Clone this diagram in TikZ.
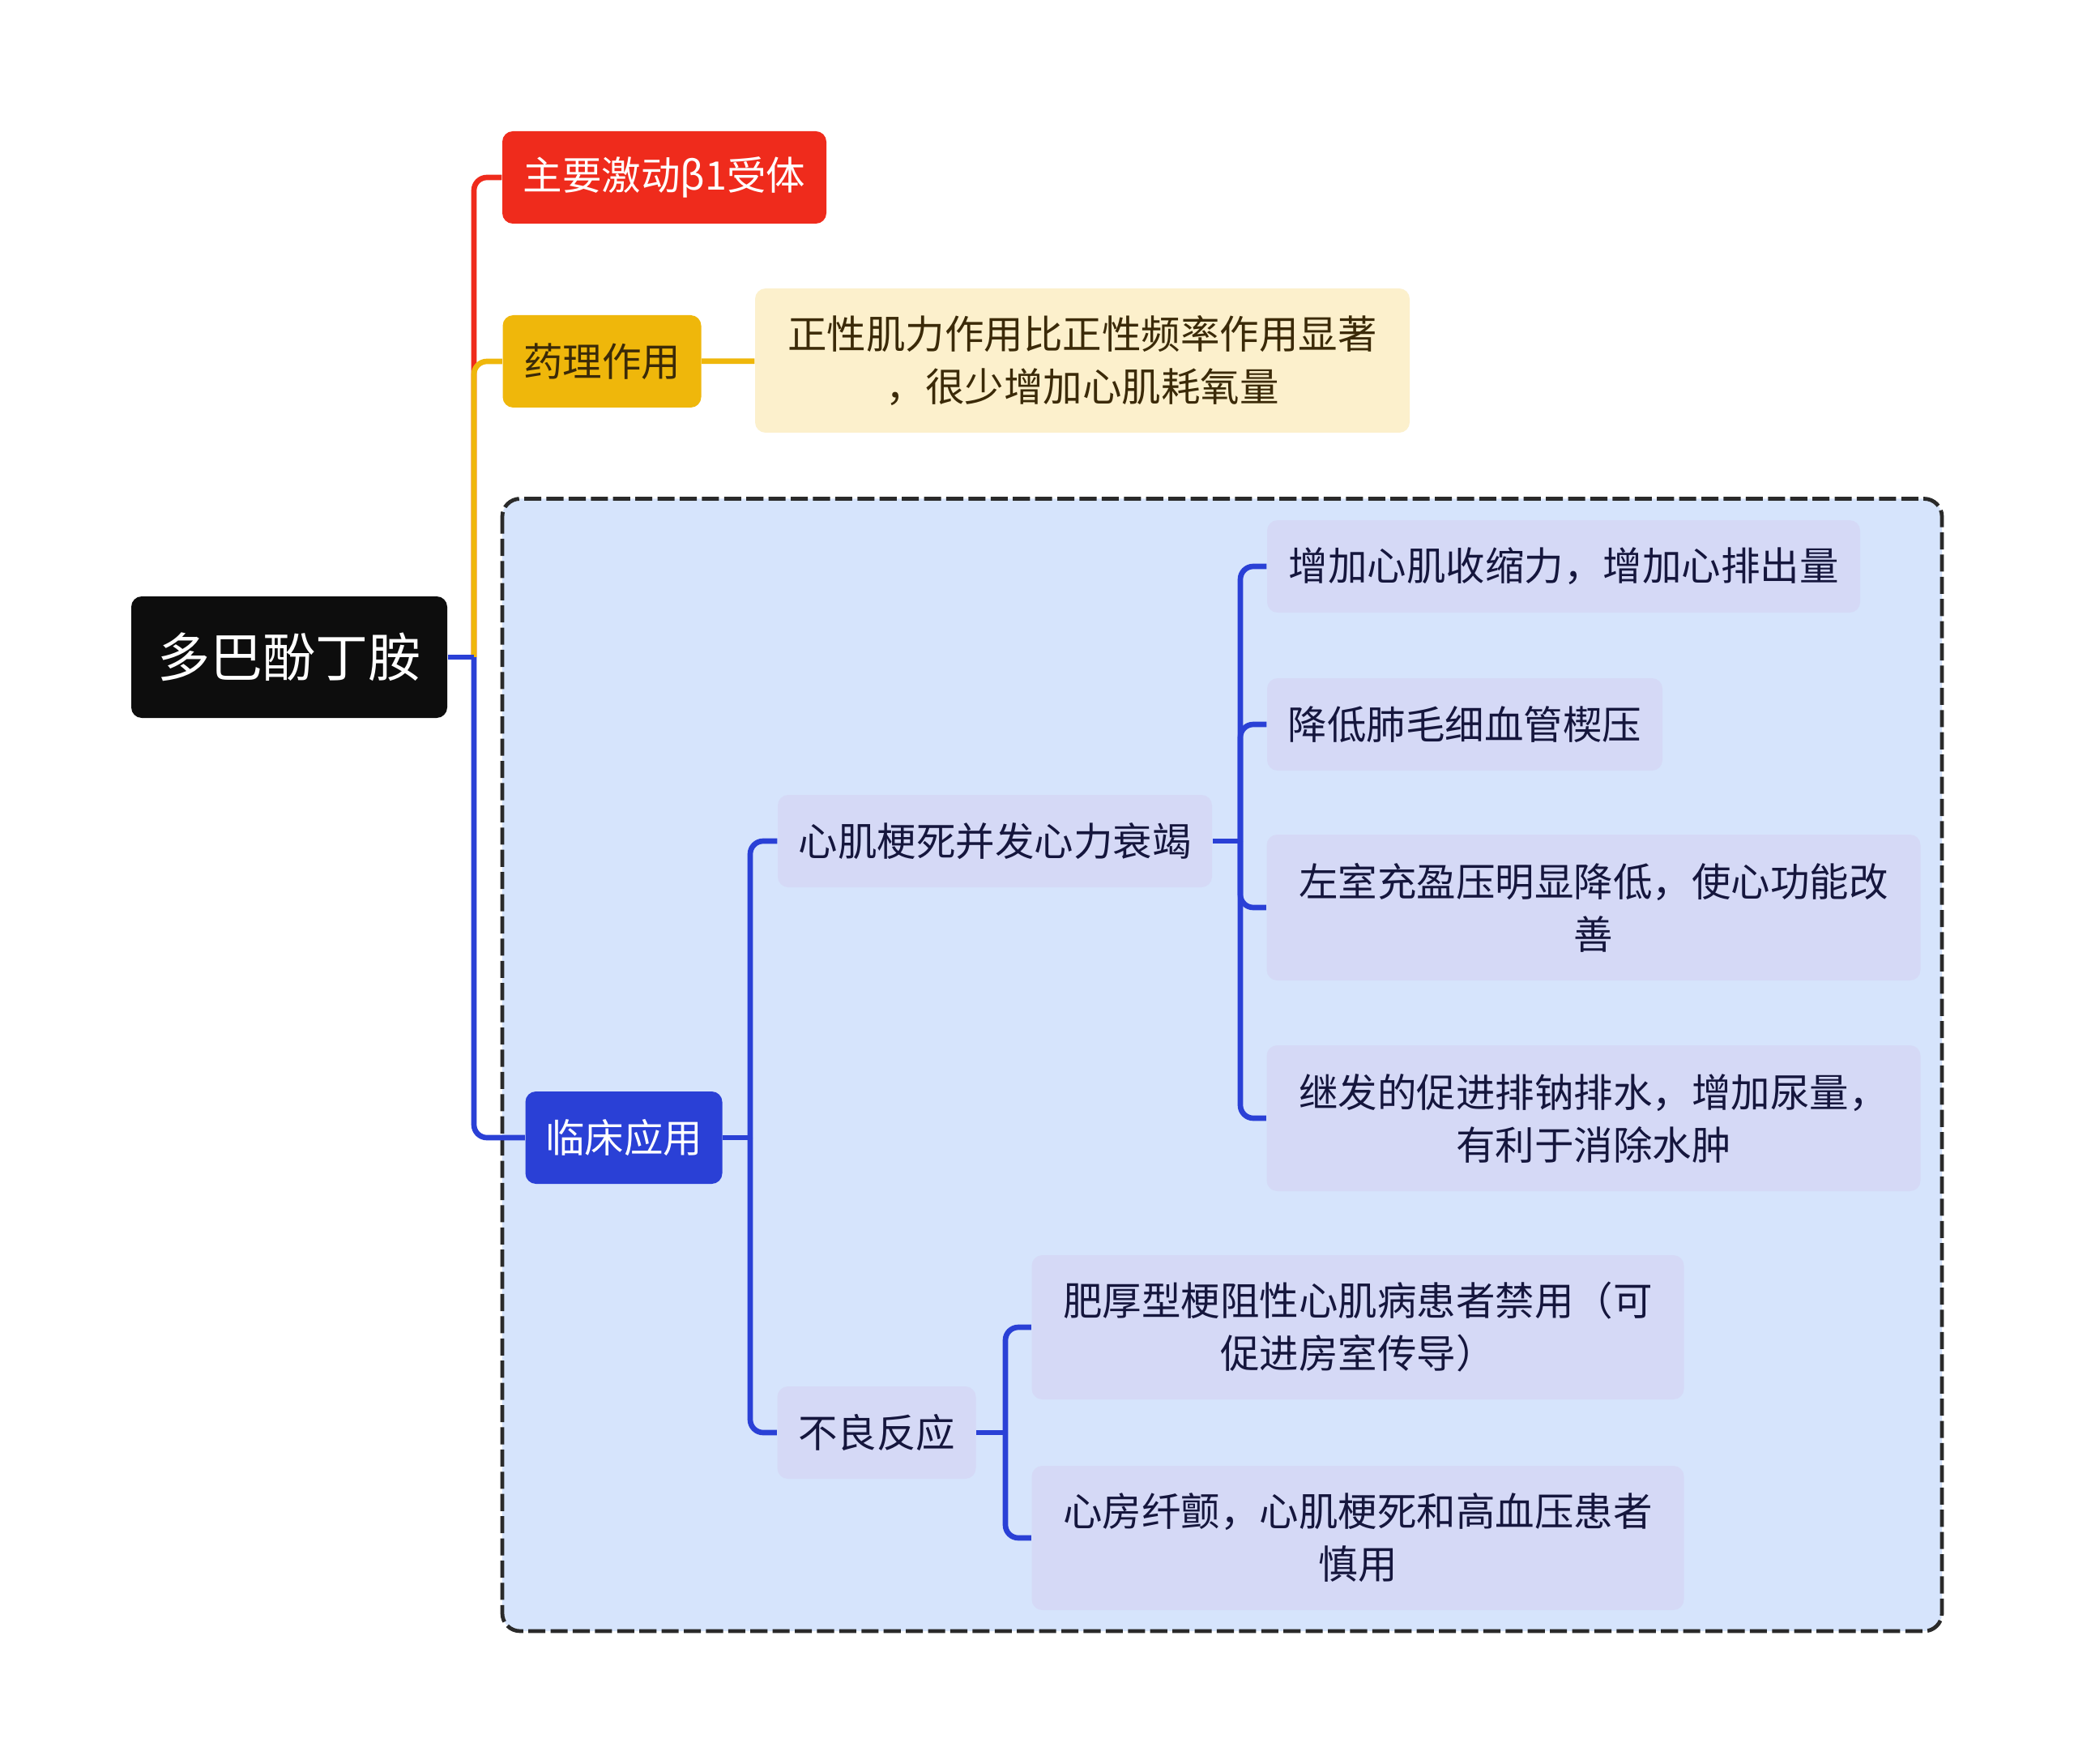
\documentclass[tikz,border=0pt]{standalone}
\usepackage{fontspec}
\setmainfont{Noto Sans CJK SC}
\usetikzlibrary{positioning,calc}
\definecolor{rootblack}{HTML}{0D0D0D}
\definecolor{topicred}{HTML}{EF2B1C}
\definecolor{topicyellow}{HTML}{EFB70B}
\definecolor{notecream}{HTML}{FCF0CC}
\definecolor{notebrown}{HTML}{3B2A08}
\definecolor{topicblue}{HTML}{2A40D6}
\definecolor{groupblue}{HTML}{D6E4FC}
\definecolor{leaflilac}{HTML}{D5D9F6}
\definecolor{leafink}{HTML}{15163D}
\definecolor{framegray}{HTML}{2A2A2A}
\tikzset{
  base/.style={rectangle, rounded corners=0.13cm, inner sep=0pt, align=center, minimum height=1.14cm, font=\fontsize{13.8}{18.5}\selectfont},
  rootbox/.style={base, fill=rootblack, text=white, minimum width=3.90cm, minimum height=1.50cm, font=\fontsize{18.5}{22}\selectfont},
  topic/.style={base, text=white},
  note/.style={base, fill=notecream, text=notebrown, minimum height=1.78cm},
  leaf/.style={base, fill=leaflilac, text=leafink},
  link/.style={line width=1.9pt, rounded corners=0.16cm},
  group/.style={draw=framegray, fill=groupblue, dash pattern=on 6pt off 1.8pt, line width=1.35pt, rounded corners=0.22cm}
}
\begin{document}
\begin{tikzpicture}
  \path[use as bounding box, fill=white] (0,0) rectangle (25.6,-21.77);
  \draw[group] (6.20,-6.155) rectangle (23.97,-20.13);

  \node[rootbox] (dobu) at (3.57,-8.11) {多巴酚丁胺};
  \node[topic, fill=topicred, minimum width=4.00cm] (beta) at (8.20,-2.19) {主要激动β1受体};
  \node[topic, fill=topicyellow, text=notebrown, minimum width=2.45cm] (pharm) at (7.43,-4.46) {药理作用};
  \node[note, minimum width=8.08cm] (pharmnote) at (13.36,-4.45) {正性肌力作用比正性频率作用显著\\，很少增加心肌耗氧量};
  \node[topic, fill=topicblue, minimum width=2.43cm] (clinic) at (7.70,-14.04) {临床应用};

  \node[leaf, minimum width=5.36cm] (heart) at (12.28,-10.38) {心肌梗死并发心力衰竭};
  \node[leaf, minimum width=2.45cm] (adverse) at (10.82,-17.68) {不良反应};

  \node[leaf, minimum width=7.32cm] (contract) at (19.30,-6.99) {增加心肌收缩力，增加心排出量};
  \node[leaf, minimum width=4.88cm] (wedge) at (18.08,-8.94) {降低肺毛细血管楔压};
  \node[leaf, minimum width=8.07cm, minimum height=1.80cm] (filling) at (19.67,-11.20) {左室充盈压明显降低，使心功能改\\善};
  \node[leaf, minimum width=8.07cm, minimum height=1.80cm] (diuresis) at (19.67,-13.80) {继发的促进排钠排水，增加尿量，\\有利于消除水肿};
  \node[leaf, minimum width=8.05cm, minimum height=1.78cm] (hocm) at (16.76,-16.38) {肥厚型梗阻性心肌病患者禁用（可\\促进房室传导）};
  \node[leaf, minimum width=8.05cm, minimum height=1.78cm] (caution) at (16.76,-18.98) {心房纤颤，心肌梗死和高血压患者\\慎用};

  \coordinate (j0) at (5.85,-8.11);
  \draw[link, draw=topicred] (j0) |- (beta.west);
  \draw[link, draw=topicyellow] (j0) |- (pharm.west);
  \draw[link, draw=topicyellow] (pharm) -- (pharmnote);
  \draw[link, draw=topicblue] (j0) |- (clinic.west);
  \draw[link, draw=topicblue] (dobu.east) -- (j0);

  \coordinate (j1) at (9.26,-14.04);
  \draw[link, draw=topicblue] (clinic.east) -- (j1);
  \draw[link, draw=topicblue] (j1) |- (heart.west);
  \draw[link, draw=topicblue] (j1) |- (adverse.west);

  \coordinate (j2) at (15.31,-10.38);
  \draw[link, draw=topicblue] (heart.east) -- (j2);
  \draw[link, draw=topicblue] (j2) |- (contract.west);
  \draw[link, draw=topicblue] (j2) |- (wedge.west);
  \draw[link, draw=topicblue] (j2) |- (filling.west);
  \draw[link, draw=topicblue] (j2) |- (diuresis.west);

  \coordinate (j3) at (12.41,-17.68);
  \draw[link, draw=topicblue] (adverse.east) -- (j3);
  \draw[link, draw=topicblue] (j3) |- (hocm.west);
  \draw[link, draw=topicblue] (j3) |- (caution.west);
\end{tikzpicture}
\end{document}
